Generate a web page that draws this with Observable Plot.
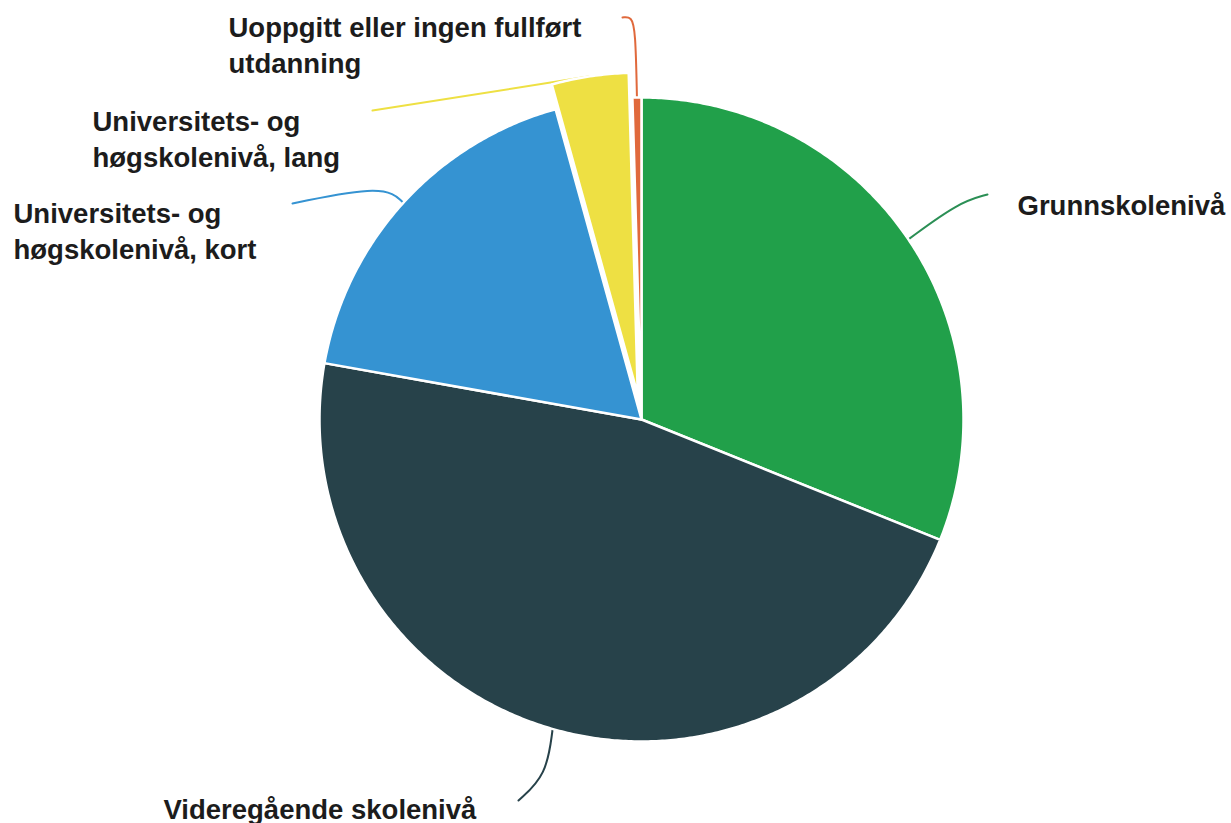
<!DOCTYPE html>
<html><head><meta charset="utf-8">
<script src="https://cdn.jsdelivr.net/npm/d3@7"></script>
<script src="https://cdn.jsdelivr.net/npm/@observablehq/plot@0.6"></script>
<style>html,body{margin:0;padding:0;background:#fff;overflow:hidden}</style>
</head><body><div id="chart"></div>
<script>
// ---- data ----
const categories = ["Grunnskolenivå", "Videregående skolenivå", "Universitets- og høgskolenivå, kort", "Universitets- og høgskolenivå, lang", "Uoppgitt eller ingen fullført utdanning"];
const labels = ["Grunnskolenivå", "Videregående skolenivå", "Universitets- og\nhøgskolenivå, kort", "Universitets- og\nhøgskolenivå, lang", "Uoppgitt eller ingen fullført\nutdanning"];
const shares = [31.1, 46.7, 17.9, 3.85, 0.45];

// ---- styles / layout ----
const colors = ["#21a04a", "#27424a", "#3593d2", "#eee043", "#e0693c"];
const leaderColors = ["#2b8f55", "#27424a", "#3593d2", "#eee043", "#e0693c"];
const explodePx = [0, 0, 0, 25, 0];
const W = 1231, H = 823, cx = 641, cy = 419, R = 322;
const FONT = "'Liberation Sans', Arial, Helvetica, sans-serif";
// label anchor (pixel): x of start, baseline of last line
const labelPos = [[1017, 214], [163, 818], [13, 258], [92, 166], [228, 72]];
// leader path waypoints after the slice edge (pixel), B-spline control points
const leaderPts = [
  [[958, 202], [987, 194]],
  [[546, 775], [518, 800]],
  [[384, 184], [292, 203]],
  [[372, 110]],
  [[635, 30], [631, 16], [622, 17]]
];

const ux = px => (px - cx) / R;
const uy = py => (cy - py) / R;

const arcs = d3.pie().sort(null).value(d => d)(shares);

const slices = [];
const leaders = [];
arcs.forEach((a, i) => {
  const mid = (a.startAngle + a.endAngle) / 2;
  const off = explodePx[i] / R;
  const ox = Math.sin(mid) * off, oy = Math.cos(mid) * off;
  const pts = [[ox, oy]];
  const n = Math.max(2, Math.ceil((a.endAngle - a.startAngle) / (Math.PI / 360)));
  for (let k = 0; k <= n; k++) {
    const t = a.startAngle + (a.endAngle - a.startAngle) * k / n;
    pts.push([ox + Math.sin(t), oy + Math.cos(t)]);
  }
  pts.push([ox, oy]);
  pts.forEach((p, j) => slices.push({cat: categories[i], idx: i, order: j, x: p[0], y: p[1]}));
  const lp = [[ox + Math.sin(mid), oy + Math.cos(mid)], ...leaderPts[i].map(p => [ux(p[0]), uy(p[1])])];
  lp.forEach((p, j) => leaders.push({cat: categories[i], idx: i, order: j, x: p[0], y: p[1]}));
});

const labelData = labels.map((t, i) => ({cat: categories[i], text: t, x: ux(labelPos[i][0]), y: uy(labelPos[i][1])}));

const marks = [];
categories.forEach((c, i) => {
  marks.push(Plot.line(leaders.filter(d => d.idx === i), {x: "x", y: "y", stroke: leaderColors[i], strokeWidth: 2, curve: "basis"}));
});
categories.forEach((c, i) => {
  marks.push(Plot.line(slices.filter(d => d.idx === i), {x: "x", y: "y", fill: colors[i], stroke: "#ffffff", strokeWidth: 2.5, strokeLinejoin: "round", curve: "linear"}));
});
marks.push(Plot.text(labelData, {x: "x", y: "y", text: "text", textAnchor: "start", lineAnchor: "bottom", lineHeight: 1.28, fontSize: 27.5, fontWeight: "bold", fontFamily: FONT, fill: "#1c1c1c"}));

const chart = Plot.plot({
  width: W, height: H,
  margin: 0,
  style: {fontFamily: FONT, background: "#fff"},
  x: {type: "linear", domain: [ux(0), ux(W)], range: [0, W], axis: null},
  y: {type: "linear", domain: [uy(0), uy(H)], range: [0, H], axis: null},
  marks
});
document.getElementById("chart").appendChild(chart);
</script>
</body></html>
